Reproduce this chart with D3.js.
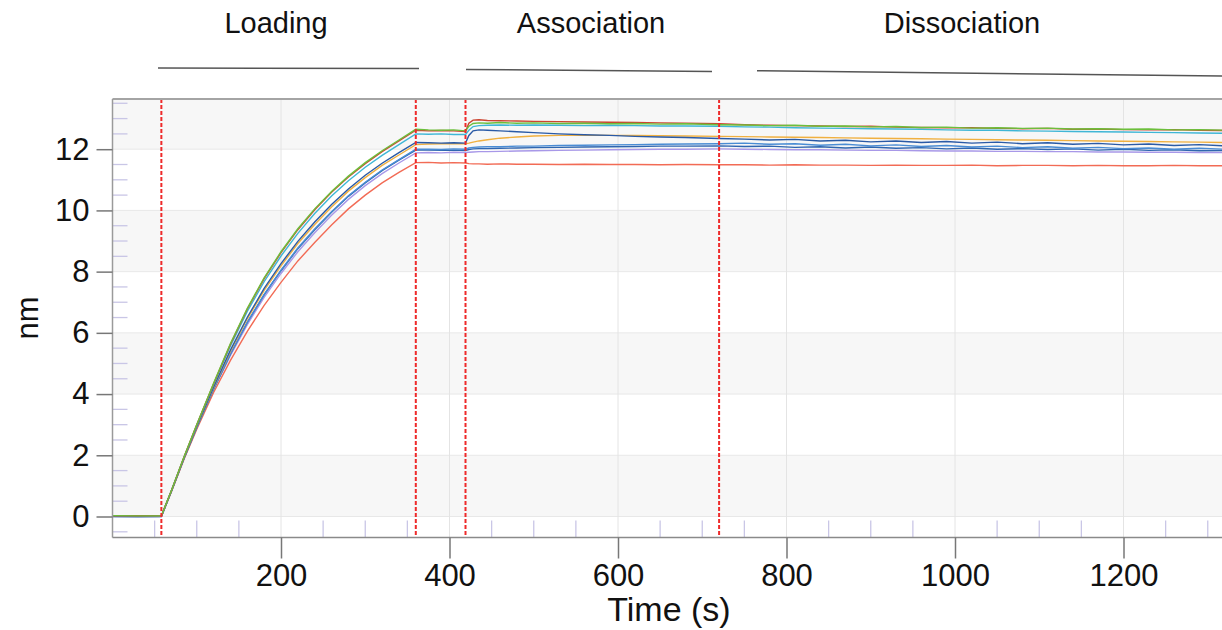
<!DOCTYPE html>
<html>
<head>
<meta charset="utf-8">
<script src="https://cdn.jsdelivr.net/npm/d3@7"></script>
<style>
  body { margin: 0; background: #fff; }
  svg { display: block; font-family: "Liberation Sans", Arial, sans-serif; }
</style>
</head>
<body>
<svg width="1222" height="630"></svg>
<script>
// time points (s) shared by every trace
const times = [0, 30, 58,
  70, 85, 100, 120, 140, 160, 180, 200, 220, 240, 260, 280, 300, 320, 340, 360,
  375, 390, 405, 419,
  423, 428, 435, 445, 460, 480, 500, 530, 560, 590, 620, 650, 680, 720,
  750, 780, 810, 840, 870, 900, 930, 960, 990, 1020, 1050, 1080, 1110, 1140, 1170, 1200, 1230, 1260, 1290, 1320];

// response (nm) per sensor
const lavender = [0.0, 0.01, 0.0,
  0.83, 1.9, 2.89, 4.14, 5.26, 6.27, 7.16, 7.94, 8.65, 9.27, 9.84, 10.36, 10.81, 11.2, 11.55, 11.88,
  11.89, 11.88, 11.9, 11.89,
  11.9, 11.91, 11.92, 11.92, 11.93, 11.94, 11.95, 11.96, 11.97, 11.98, 11.99, 12.0, 12.0, 12.01,
  12.0, 11.99, 11.98, 11.98, 11.97, 11.96, 11.96, 11.95, 11.94, 11.94, 11.93, 11.93, 11.92, 11.92, 11.91, 11.91, 11.9, 11.9, 11.89, 11.89];
const salmon = [0.02, 0.01, 0.01,
  0.82, 1.88, 2.85, 4.05, 5.1, 6.05, 6.9, 7.65, 8.35, 8.95, 9.52, 10.05, 10.5, 10.9, 11.24, 11.56,
  11.57, 11.55, 11.56, 11.55,
  11.53, 11.52, 11.52, 11.51, 11.52, 11.51, 11.51, 11.5, 11.51, 11.5, 11.5, 11.49, 11.5, 11.49,
  11.49, 11.48, 11.49, 11.48, 11.48, 11.47, 11.48, 11.47, 11.47, 11.48, 11.46, 11.47, 11.47, 11.46, 11.47, 11.46, 11.46, 11.47, 11.46, 11.46];
const blue2 = [0.0, 0.01, 0.0,
  0.83, 1.91, 2.91, 4.16, 5.31, 6.34, 7.24, 8.03, 8.75, 9.37, 9.94, 10.46, 10.9, 11.3, 11.64, 11.97,
  11.97, 11.96, 11.97, 11.96,
  11.99, 12.01, 12.02, 12.02, 12.03, 12.04, 12.05, 12.06, 12.07, 12.08, 12.09, 12.1, 12.1, 12.11,
  12.09, 12.1, 12.06, 12.08, 12.04, 12.07, 12.03, 12.05, 12.01, 12.04, 12.0, 12.02, 11.99, 12.01, 11.97, 12.0, 11.96, 11.98, 11.95, 11.96];
const blue = [0.01, 0.02, 0.01,
  0.83, 1.91, 2.91, 4.17, 5.32, 6.35, 7.26, 8.05, 8.77, 9.39, 9.96, 10.48, 10.92, 11.32, 11.66, 12.0,
  12.0, 11.99, 12.01, 12.0,
  12.04, 12.06, 12.07, 12.08, 12.08, 12.1, 12.1, 12.12, 12.13, 12.14, 12.15, 12.16, 12.17, 12.18,
  12.2, 12.16, 12.18, 12.13, 12.16, 12.11, 12.14, 12.09, 12.12, 12.07, 12.1, 12.05, 12.08, 12.03, 12.06, 12.02, 12.04, 12.0, 12.03, 12.0];
const orange = [0.02, 0.01, 0.02,
  0.84, 1.92, 2.93, 4.21, 5.4, 6.46, 7.39, 8.19, 8.92, 9.54, 10.11, 10.63, 11.07, 11.47, 11.81, 12.15,
  12.17, 12.18, 12.18, 12.18,
  12.2, 12.23, 12.27, 12.31, 12.36, 12.4, 12.43, 12.45, 12.46, 12.45, 12.45, 12.44, 12.43, 12.42,
  12.41, 12.4, 12.39, 12.38, 12.37, 12.36, 12.35, 12.34, 12.33, 12.32, 12.31, 12.3, 12.29, 12.28, 12.27, 12.26, 12.25, 12.24, 12.23, 12.22];
const navy = [0.01, 0.0, 0.01,
  0.84, 1.92, 2.94, 4.23, 5.44, 6.51, 7.45, 8.26, 8.99, 9.62, 10.19, 10.7, 11.15, 11.54, 11.89, 12.22,
  12.21, 12.2, 12.21, 12.2,
  12.45, 12.6, 12.63, 12.62, 12.6, 12.57, 12.54, 12.5, 12.47, 12.45, 12.42, 12.4, 12.38, 12.35,
  12.33, 12.3, 12.32, 12.27, 12.29, 12.24, 12.27, 12.22, 12.25, 12.2, 12.23, 12.18, 12.21, 12.16, 12.19, 12.14, 12.17, 12.12, 12.15, 12.11];
const cyan = [0.02, 0.02, 0.01,
  0.85, 1.94, 2.98, 4.31, 5.57, 6.7, 7.67, 8.51, 9.25, 9.9, 10.47, 10.97, 11.41, 11.8, 12.15, 12.5,
  12.49, 12.5, 12.48, 12.48,
  12.62, 12.74, 12.77, 12.78, 12.79, 12.78, 12.79, 12.78, 12.77, 12.78, 12.77, 12.76, 12.76, 12.75,
  12.73, 12.72, 12.7, 12.69, 12.68, 12.67, 12.66, 12.65, 12.63, 12.62, 12.62, 12.6, 12.59, 12.58, 12.57, 12.56, 12.55, 12.54, 12.53, 12.52];
const darkred = [0.02, 0.03, 0.02,
  0.85, 1.95, 3.0, 4.34, 5.63, 6.78, 7.77, 8.62, 9.37, 10.02, 10.59, 11.09, 11.53, 11.92, 12.27, 12.62,
  12.6, 12.61, 12.6, 12.58,
  12.85, 12.95, 12.96, 12.94, 12.93, 12.92, 12.91, 12.9, 12.89, 12.88, 12.87, 12.86, 12.85, 12.83,
  12.8, 12.78, 12.77, 12.76, 12.74, 12.75, 12.72, 12.71, 12.7, 12.7, 12.68, 12.67, 12.68, 12.65, 12.66, 12.64, 12.63, 12.64, 12.62, 12.61];
const green = [0.03, 0.02, 0.02,
  0.85, 1.95, 3.0, 4.35, 5.65, 6.8, 7.8, 8.65, 9.4, 10.05, 10.62, 11.12, 11.56, 11.95, 12.3, 12.65,
  12.63, 12.62, 12.63, 12.6,
  12.75, 12.84, 12.86, 12.85, 12.87, 12.85, 12.86, 12.84, 12.85, 12.83, 12.84, 12.82, 12.83, 12.8,
  12.79, 12.77, 12.78, 12.75, 12.76, 12.73, 12.74, 12.71, 12.72, 12.69, 12.7, 12.68, 12.69, 12.66, 12.67, 12.65, 12.66, 12.63, 12.64, 12.62];

const seriesValues = [lavender, salmon, blue2, blue, orange, navy, cyan, darkred, green];
const seriesColors = ["#a898e8", "#f26b55", "#2f66b0", "#4a8cd4", "#f0b040", "#2a5aa6", "#3fb6d6", "#cc4430", "#6cbf3c"];

// step boundaries (s) and their names
const stepLines = [58, 360, 419, 720];
const phaseNames = ["Loading", "Association", "Dissociation"];
const xTicks = [200, 400, 600, 800, 1000, 1200];
const yTicks = [0, 2, 4, 6, 8, 10, 12];

const svg = d3.select("svg");
const plotLeft = 112.5, plotRight = 1224.6, plotTop = 99, plotBottom = 537.5;

const x = d3.scaleLinear().domain([0, 1320]).range([plotLeft, plotRight]);
const y = d3.scaleLinear().domain([-0.686, 13.64]).range([plotBottom, plotTop]);

// alternating bands
const bands = [[12, 13.64], [8, 10], [4, 6], [0, 2]];
svg.append("g").selectAll("rect")
    .data(bands)
    .enter().append("rect")
    .attr("x", plotLeft)
    .attr("width", plotRight - plotLeft)
    .attr("y", d => y(d[1]))
    .attr("height", d => y(d[0]) - y(d[1]))
    .attr("fill", "#f7f7f7");

// grid lines
svg.append("g").selectAll("line")
    .data(yTicks)
    .enter().append("line")
    .attr("x1", plotLeft).attr("x2", plotRight)
    .attr("y1", d => y(d)).attr("y2", d => y(d))
    .attr("stroke", "#e8e8e8");
svg.append("g").selectAll("line")
    .data(xTicks)
    .enter().append("line")
    .attr("x1", d => x(d)).attr("x2", d => x(d))
    .attr("y1", plotTop).attr("y2", plotBottom)
    .attr("stroke", "#e4e4e4");

// minor ticks inside the plot
const xMinor = d3.range(50, 1320, 50).filter(d => d % 200 !== 0);
svg.append("g").selectAll("line")
    .data(xMinor)
    .enter().append("line")
    .attr("x1", d => x(d)).attr("x2", d => x(d))
    .attr("y1", plotBottom - 17).attr("y2", plotBottom)
    .attr("stroke", "#c9c6e6").attr("stroke-width", 1.3);
const yMinor = d3.range(-0.5, 13.6, 0.5).filter(d => d % 2 !== 0);
svg.append("g").selectAll("line")
    .data(yMinor)
    .enter().append("line")
    .attr("x1", plotLeft).attr("x2", plotLeft + 15)
    .attr("y1", d => y(d)).attr("y2", d => y(d))
    .attr("stroke", "#c9c6e6").attr("stroke-width", 1.3);

// traces
const line = d3.line()
    .x((d, i) => x(times[i]))
    .y(d => y(d));
svg.append("g").selectAll("path")
    .data(seriesValues)
    .enter().append("path")
    .attr("d", line)
    .attr("fill", "none")
    .attr("stroke", (d, i) => seriesColors[i])
    .attr("stroke-width", 1.4);

// step boundaries
svg.append("g").selectAll("line")
    .data(stepLines)
    .enter().append("line")
    .attr("x1", d => x(d)).attr("x2", d => x(d))
    .attr("y1", plotTop).attr("y2", plotBottom)
    .attr("stroke", "#ee2a2a")
    .attr("stroke-width", 2)
    .attr("stroke-dasharray", "4,2");

// frame
svg.append("line").attr("x1", plotLeft).attr("x2", 1222).attr("y1", plotTop).attr("y2", plotTop)
    .attr("stroke", "#a4a4a4").attr("stroke-width", 2);
svg.append("line").attr("x1", plotLeft).attr("x2", plotLeft).attr("y1", plotTop).attr("y2", plotBottom)
    .attr("stroke", "#9a9a9a").attr("stroke-width", 1.5);

// axes
const yAxis = svg.append("g")
    .attr("transform", `translate(${plotLeft},0)`)
    .call(d3.axisLeft(y).tickValues(yTicks).tickSize(16).tickPadding(7).tickFormat(d3.format("d")));
const xAxis = svg.append("g")
    .attr("transform", `translate(0,${plotBottom})`)
    .call(d3.axisBottom(x).tickValues(xTicks).tickSize(21).tickPadding(5).tickFormat(d3.format("d")));
[yAxis, xAxis].forEach(g => {
    g.select(".domain").attr("stroke", "#8a8a8a").attr("stroke-width", 1.5);
    g.selectAll(".tick line").attr("stroke", "#777").attr("stroke-width", 1.5);
    g.selectAll(".tick text")
        .attr("fill", "#111")
        .style("font-size", "31px")
        .style("font-family", '"Liberation Sans", Arial, sans-serif');
});
xAxis.select(".domain").attr("d", `M${plotLeft},0H1222`);
yAxis.select(".domain").remove();

// axis titles
svg.append("text")
    .attr("x", 669).attr("y", 621)
    .attr("text-anchor", "middle")
    .attr("fill", "#111")
    .style("font-size", "34px")
    .text("Time (s)");
svg.append("text")
    .attr("transform", "translate(38,318) rotate(-90)")
    .attr("text-anchor", "middle")
    .attr("fill", "#111")
    .style("font-size", "31px")
    .text("nm");

// phase labels with their hand drawn brackets
const phaseCenters = [276, 591, 962];
const phaseRules = [[158, 68, 419, 68.5], [466, 69.5, 712, 71.5], [757, 70.7, 1222, 76]];
svg.append("g").selectAll("text")
    .data(phaseNames)
    .enter().append("text")
    .attr("x", (d, i) => phaseCenters[i])
    .attr("y", 33)
    .attr("text-anchor", "middle")
    .attr("fill", "#111")
    .style("font-size", "29px")
    .text(d => d);
svg.append("g").selectAll("line")
    .data(phaseRules)
    .enter().append("line")
    .attr("x1", d => d[0]).attr("y1", d => d[1])
    .attr("x2", d => d[2]).attr("y2", d => d[3])
    .attr("stroke", "#555")
    .attr("stroke-width", 1.5);
</script>
</body>
</html>
